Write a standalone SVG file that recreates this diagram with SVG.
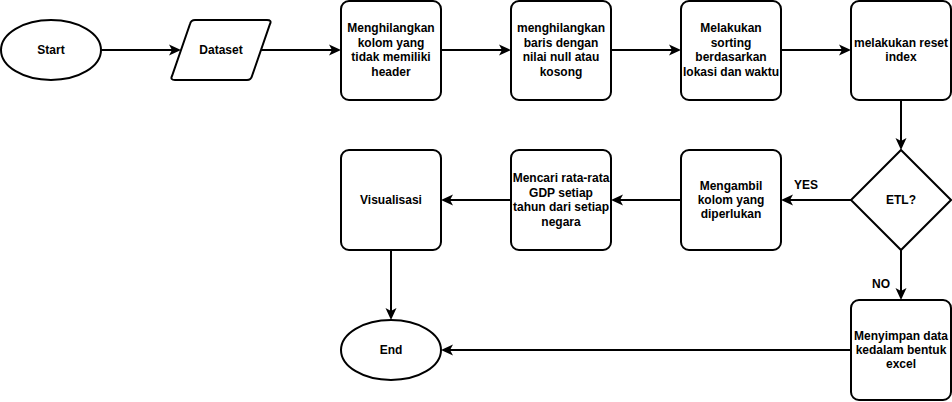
<svg xmlns="http://www.w3.org/2000/svg" width="952" height="402" viewBox="0 0 952 402">
<style>
.s{fill:#ffffff;stroke:#000000;stroke-width:2}
.c{fill:none;stroke:#000000;stroke-width:2}
text{font-family:"Liberation Sans",Arial,Helvetica,sans-serif;font-size:12px;font-weight:bold;fill:#000000;text-anchor:middle}
</style>
<defs>
<marker id="arr" viewBox="0 0 12 12" refX="6" refY="6" markerWidth="12" markerHeight="12" markerUnits="userSpaceOnUse" orient="auto">
<path d="M0,0.5 L12,6 L0,11.5 L3,6 Z" fill="#000000"/>
</marker>
</defs>
<g id="connectors">
<path class="c" d="M101,50 L175,50" marker-end="url(#arr)"/>
<path class="c" d="M261,50 L335,50" marker-end="url(#arr)"/>
<path class="c" d="M441,50 L505,50" marker-end="url(#arr)"/>
<path class="c" d="M611,50 L675,50" marker-end="url(#arr)"/>
<path class="c" d="M781,50 L845,50" marker-end="url(#arr)"/>
<path class="c" d="M901,100 L901,144" marker-end="url(#arr)"/>
<path class="c" d="M851,200 L787,200" marker-end="url(#arr)"/>
<path class="c" d="M681,200 L617,200" marker-end="url(#arr)"/>
<path class="c" d="M511,200 L447,200" marker-end="url(#arr)"/>
<path class="c" d="M391,250 L391,314" marker-end="url(#arr)"/>
<path class="c" d="M901,250 L901,294" marker-end="url(#arr)"/>
<path class="c" d="M851,350 L447,350" marker-end="url(#arr)"/>
<text x="806" y="189">YES</text>
<text x="881" y="288">NO</text>
</g>
<g id="start">
<ellipse class="s" cx="51" cy="50" rx="50" ry="30"/>
<text x="51" y="54">Start</text>
</g>
<g id="dataset">
<path class="s" d="M195,20 L267,20 Q272,20 270,24 L252,76 Q251,80 247,80 L175,80 Q170,80 172,76 L190,24 Q191,20 195,20 Z"/>
<text x="221" y="54">Dataset</text>
</g>
<g id="box1">
<rect class="s" x="341" y="1" width="100" height="99" rx="8"/>
<text x="391" y="32.4">Menghilangkan</text>
<text x="391" y="46.8">kolom yang</text>
<text x="391" y="61.2">tidak memiliki</text>
<text x="391" y="75.6">header</text>
</g>
<g id="box2">
<rect class="s" x="511" y="1" width="100" height="99" rx="8"/>
<text x="561" y="32.4">menghilangkan</text>
<text x="561" y="46.8">baris dengan</text>
<text x="561" y="61.2">nilai null atau</text>
<text x="561" y="75.6">kosong</text>
</g>
<g id="box3">
<rect class="s" x="681" y="1" width="100" height="99" rx="8"/>
<text x="731" y="32.4">Melakukan</text>
<text x="731" y="46.8">sorting</text>
<text x="731" y="61.2">berdasarkan</text>
<text x="731" y="75.6">lokasi dan waktu</text>
</g>
<g id="box4">
<rect class="s" x="851" y="1" width="100" height="99" rx="8"/>
<text x="901" y="46.8">melakukan reset</text>
<text x="901" y="61.2">index</text>
</g>
<g id="etl">
<path class="s" d="M901,150 L951,200 L901,250 L851,200 Z"/>
<text x="901" y="204">ETL?</text>
</g>
<g id="mengambil">
<rect class="s" x="681" y="150" width="100" height="100" rx="8"/>
<text x="731" y="189.6">Mengambil</text>
<text x="731" y="204">kolom yang</text>
<text x="731" y="218.4">diperlukan</text>
</g>
<g id="mencari">
<rect class="s" x="511" y="150" width="100" height="100" rx="8"/>
<text x="561" y="182.4">Mencari rata-rata</text>
<text x="561" y="196.8">GDP setiap</text>
<text x="561" y="211.2">tahun dari setiap</text>
<text x="561" y="225.6">negara</text>
</g>
<g id="visualisasi">
<rect class="s" x="341" y="150" width="100" height="100" rx="8"/>
<text x="391" y="204">Visualisasi</text>
</g>
<g id="menyimpan">
<rect class="s" x="851" y="300" width="100" height="100" rx="8"/>
<text x="901" y="339.6">Menyimpan data</text>
<text x="901" y="354">kedalam bentuk</text>
<text x="901" y="368.4">excel</text>
</g>
<g id="end">
<ellipse class="s" cx="391" cy="350" rx="50" ry="30"/>
<text x="391" y="354">End</text>
</g>
</svg>
